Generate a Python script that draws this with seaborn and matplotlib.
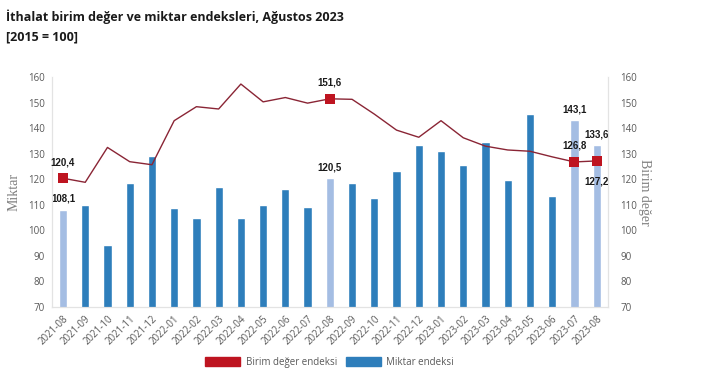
import numpy as np
import pandas as pd
import matplotlib
matplotlib.use("Agg")
import matplotlib.pyplot as plt
import seaborn as sns
from matplotlib.patches import Patch

months = ["2021-08", "2021-09", "2021-10", "2021-11", "2021-12", "2022-01",
          "2022-02", "2022-03", "2022-04", "2022-05", "2022-06", "2022-07",
          "2022-08", "2022-09", "2022-10", "2022-11", "2022-12", "2023-01",
          "2023-02", "2023-03", "2023-04", "2023-05", "2023-06", "2023-07",
          "2023-08"]
miktar = [108.1, 110.0, 94.2, 118.6, 129.2, 108.8, 104.9, 117.0, 104.9, 110.0,
          116.1, 109.1, 120.5, 118.6, 112.5, 123.1, 133.6, 131.1, 125.6, 134.6,
          119.6, 145.7, 113.5, 143.1, 133.6]
birim = [120.4, 118.8, 132.5, 126.9, 125.7, 143.0, 148.5, 147.6, 157.4, 150.4,
         152.1, 149.9, 151.6, 151.4, 145.6, 139.3, 136.5, 143.0, 136.3, 133.0,
         131.5, 131.0, 128.8, 126.8, 127.2]
highlight = ["2021-08", "2022-08", "2023-07", "2023-08"]

# labelled points
bar_labels = {"2021-08": "108,1", "2022-08": "120,5", "2023-07": "143,1", "2023-08": "133,6"}
line_labels = {"2021-08": ("120,4", 8), "2022-08": ("151,6", 8),
               "2023-07": ("126,8", 8), "2023-08": ("127,2", -11)}

DARK_BLUE = "#2E7EBB"
LIGHT_BLUE = "#A4BDE3"
LINE_RED = "#8A2535"
MARK_RED = "#BE1420"
TXT = "#595959"

df = pd.DataFrame({"month": months, "miktar": miktar, "birim": birim})
df["pos"] = np.arange(len(df))
colors = {m: (LIGHT_BLUE if m in highlight else DARK_BLUE) for m in months}

sns.set_style("white")
plt.rcParams["font.family"] = ["Open Sans", "DejaVu Sans"]

fig = plt.figure(figsize=(7.01, 3.91), dpi=100)
ax = fig.add_axes([0.074, 0.216, 0.793, 0.586])

sns.barplot(data=df, x="month", y="miktar", hue="month", palette=colors,
            legend=False, width=0.37, ax=ax, saturation=1)
ax.set_ylim(70, 160)
ax.set_xlim(-0.5, len(months) - 0.5)
ax.set_yticks(range(70, 161, 10))
ax.set_xlabel("")
ax.set_ylabel("Miktar", family="Liberation Serif", fontsize=10, color="#7F7F7F",
              va="center")
ax.yaxis.set_label_coords(-0.068, 0.5)
ax.tick_params(axis="both", length=0, labelsize=7, colors=TXT, pad=5)
plt.setp(ax.get_xticklabels(), rotation=45, ha="right", rotation_mode="anchor")

ax2 = ax.twinx()
sns.lineplot(data=df, x="pos", y="birim", color=LINE_RED, linewidth=1.0, ax=ax2)
hl = df[df["month"].isin(highlight)]
sns.scatterplot(data=hl, x="pos", y="birim", marker="s", s=60, color=MARK_RED,
                edgecolor=MARK_RED, linewidth=0, ax=ax2, zorder=5)
ax2.set_ylim(70, 160)
ax2.set_yticks(range(70, 161, 10))
ax2.set_xlim(-0.5, len(months) - 0.5)
ax2.set_ylabel("Birim değer", family="Liberation Serif", fontsize=10, color="#7F7F7F",
               rotation=-90, va="center")
ax2.yaxis.set_label_coords(1.066, 0.5)
ax2.tick_params(axis="y", length=0, labelsize=7, colors=TXT, pad=9)

for a in (ax, ax2):
    a.spines["top"].set_visible(False)
    for side in ("left", "right", "bottom"):
        a.spines[side].set_color("#E3E3E3")
        a.spines[side].set_linewidth(0.8)

for m, txt in bar_labels.items():
    i = months.index(m)
    ax.annotate(txt, (i, miktar[i]), xytext=(0, 4), textcoords="offset points",
                ha="center", va="bottom", fontsize=7, fontweight="bold",
                family="Liberation Sans", color="#1A1A1A")
for m, (txt, dy) in line_labels.items():
    i = months.index(m)
    ax2.annotate(txt, (i, birim[i]), xytext=(0, dy), textcoords="offset points",
                 ha="center", va="bottom" if dy > 0 else "top", fontsize=7,
                 fontweight="bold", family="Liberation Sans", color="#1A1A1A", zorder=6)

fig.text(0.008, 0.958, "İthalat birim değer ve miktar endeksleri, Ağustos 2023",
         fontsize=9, fontweight="bold", color="#1A1A1A", va="center")
fig.text(0.008, 0.905, "[2015 = 100]", fontsize=9, fontweight="bold",
         color="#1A1A1A", va="center")

handles = [Patch(color=MARK_RED, label="Birim değer endeksi"),
           Patch(color=DARK_BLUE, label="Miktar endeksi")]
fig.legend(handles=handles, loc="center", bbox_to_anchor=(0.47, 0.073), ncol=2,
           frameon=False, fontsize=7, handlelength=3.6, handleheight=1.1,
           columnspacing=0.9, handletextpad=0.6, labelcolor=TXT)

fig.savefig("out.png", dpi=100)
